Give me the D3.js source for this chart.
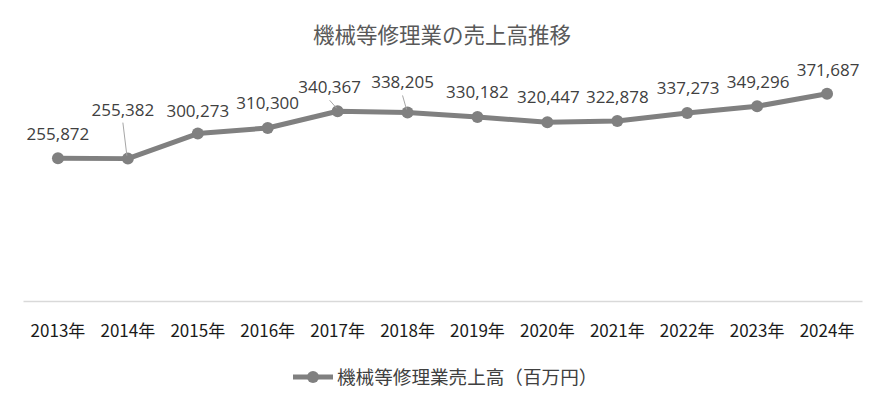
<!DOCTYPE html>
<html><head><meta charset="utf-8">
<script src="https://cdn.jsdelivr.net/npm/d3@7"></script>
<style>body{margin:0;background:#fff}svg{display:block}</style>
</head><body>
<svg id="c" width="886" height="407"></svg>
<script>
const categories = ["2013年","2014年","2015年","2016年","2017年","2018年","2019年","2020年","2021年","2022年","2023年","2024年"];
const values = [255872,255382,300273,310300,340367,338205,330182,320447,322878,337273,349296,371687];
const seriesName = "機械等修理業売上高（百万円）";
const title = "機械等修理業の売上高推移";
// label tweaks (layout only): dx, dy of label centre from point
const labelShift = [[0,-24],[-5,-49],[0,-23],[0,-25],[-8,-24],[-5,-30],[0,-25],[1,-25],[0,-24],[1,-25],[1,-24],[1,-24]];
const leader = [false,true,false,false,true,true,false,false,false,false,false,false];

const svg = d3.select("#c");
const font = "'Noto Sans CJK JP', 'Noto Sans', sans-serif";
const numFont = "'Open Sans', 'Noto Sans', sans-serif";
const x = d3.scaleBand().domain(categories).range([23, 862]);
const y = d3.scaleLinear().domain([0, 400000]).range([301, 78]);

svg.append("text").attr("x", 442).attr("y", 43).attr("text-anchor","middle")
  .attr("font-family", font).attr("font-size", 21.5).attr("fill","#595959").text(title);

// baseline
const xAxis = d3.axisBottom(x).tickSize(0).tickPadding(0);
const ga = svg.append("g").attr("transform","translate(0,301)").call(xAxis);
ga.select(".domain").attr("stroke","#d9d9d9").attr("stroke-width",1.5);
ga.selectAll("text").attr("font-family", font).attr("font-size", 17).attr("fill","#1a1a1a")
  .attr("dy", null).attr("y", 36);

const cx = d => x(d) + x.bandwidth()/2;
const line = d3.line().x((d,i)=>cx(categories[i])).y(d=>y(d));
svg.append("path").datum(values).attr("d", line).attr("fill","none")
  .attr("stroke","#808080").attr("stroke-width",5).attr("stroke-linejoin","round");
svg.selectAll("circle.pt").data(values).join("circle").attr("class","pt")
  .attr("cx",(d,i)=>cx(categories[i])).attr("cy",d=>y(d)).attr("r",6).attr("fill","#808080");

// leader lines
svg.selectAll("line.ld").data(values.map((v,i)=>({v,i})).filter(d=>leader[d.i])).join("line")
  .attr("class","ld")
  .attr("x1",d=>cx(categories[d.i])+labelShift[d.i][0])
  .attr("y1",d=>y(d.v)+labelShift[d.i][1]+13)
  .attr("x2",d=>cx(categories[d.i])-1)
  .attr("y2",d=>y(d.v)-3)
  .attr("stroke","#a6a6a6").attr("stroke-width",1);

svg.selectAll("text.lb").data(values).join("text").attr("class","lb")
  .attr("x",(d,i)=>cx(categories[i])+labelShift[i][0])
  .attr("y",(d,i)=>y(d)+labelShift[i][1])
  .attr("dy","0.35em").attr("text-anchor","middle")
  .attr("font-family", numFont).attr("font-size", 17).attr("fill","#404040")
  .text(d=>d3.format(",")(d));

// legend
const lg = svg.append("g");
lg.append("line").attr("x1",293).attr("x2",333).attr("y1",377).attr("y2",377)
  .attr("stroke","#808080").attr("stroke-width",5);
lg.append("circle").attr("cx",313).attr("cy",377).attr("r",6).attr("fill","#808080");
lg.append("text").attr("x",337).attr("y",377).attr("dy","0.35em")
  .attr("font-family", font).attr("font-size", 18.6).attr("fill","#404040").text(seriesName);
</script>
</body></html>
